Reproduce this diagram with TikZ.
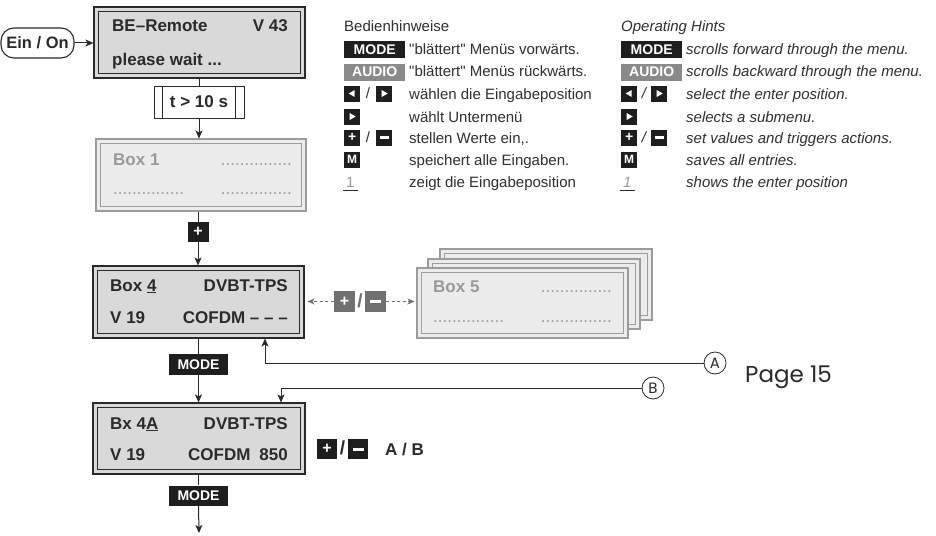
\documentclass[tikz,border=0pt]{standalone}
\usepackage{fontspec}
\setmainfont{Liberation Sans}
\newfontfamily\plainfont{Liberation Sans}
\newfontfamily\pagefont{Poppins}
\usetikzlibrary{arrows.meta}
\definecolor{dark}{HTML}{2A2A2A}
\definecolor{lcdfill}{HTML}{D9D9D9}
\definecolor{offfill}{HTML}{ECECEC}
\definecolor{offline}{HTML}{9C9C9C}
\definecolor{offtext}{HTML}{9A9A9A}
\definecolor{btnblack}{HTML}{1E1E1E}
\definecolor{audiogray}{HTML}{8A8A8A}
\definecolor{btngray}{HTML}{707070}
\definecolor{legtext}{HTML}{303030}
\newcommand\innerbox[2]{\draw[#2] ([shift={(5,5)}]#1.north west) rectangle ([shift={(-5,-5)}]#1.south east);}
\newcommand\sq{{\plainfont\symbol{34}}}
\begin{document}
\begin{tikzpicture}[x=1pt,y=-1pt,
  >={Stealth[length=8pt,width=7pt,inset=2pt]},
  lcd/.style={draw=dark,line width=1.1pt,fill=lcdfill,inner sep=0},
  offbox/.style={draw=offline,line width=1.1pt,fill=offfill,inner sep=0},
  btxt/.style={font=\fontsize{17}{20}\selectfont\bfseries,text=dark,inner sep=0},
  otxt/.style={font=\fontsize{17}{20}\selectfont\bfseries,text=offtext,inner sep=0},
  dotstxt/.style={font=\fontsize{17}{20}\selectfont,text=offtext,inner sep=0},
  keybtn/.style={fill=btnblack,text=white,font=\fontsize{14}{16}\selectfont\bfseries,inner sep=0,minimum width=61,minimum height=17},
  sqbtn/.style={fill=btnblack,text=white,font=\fontsize{14}{16}\selectfont\bfseries,inner sep=0,minimum width=16,minimum height=16},
  legtxt/.style={font=\fontsize{15}{18}\selectfont,text=legtext,inner sep=0,anchor=base west},
  legit/.style={font=\fontsize{15}{18}\selectfont\itshape,text=legtext,inner sep=0,anchor=base west},
  flow/.style={draw=dark,line width=1pt},
  gflow/.style={draw=btngray,line width=0.9pt,dashed,dash pattern=on 3pt off 2.5pt,
     -{Stealth[length=7pt,width=6pt,inset=2pt]}},
  circ/.style={circle,draw=dark,line width=0.8pt,inner sep=0,minimum size=22,font=\pagefont\fontsize{15}{16}\selectfont,text=dark}
]
\useasboundingbox (0,0) rectangle (936,535);
\fill[white] (0,0) rectangle (936,535);

% ---------- start ----------
\node[draw=dark,line width=1.1pt,rounded corners=13,minimum width=73,minimum height=30,inner sep=0,
      font=\fontsize{16.5}{18}\selectfont\bfseries,text=dark] (ein) at (37.5,43) {Ein / On};

\node[lcd,minimum width=211,minimum height=71] (be) at (199.5,42.5) {};
\innerbox{be}{dark,line width=0.9pt}
\node[btxt,anchor=base west] (be1) at (112,32) {BE–Remote};
\node[btxt,anchor=base east] (be2) at (288,32) {V 43};
\node[btxt,anchor=base west] (be3) at (112,65) {please wait ...};

\node[draw=dark,line width=1pt,fill=white,minimum width=90,minimum height=32,inner sep=0,
      font=\fontsize{17}{20}\selectfont\bfseries,text=dark] (tbox) at (199,102) {t > 10 s};
\draw[dark,line width=0.9pt] ([xshift=9]tbox.north west) -- ([xshift=9]tbox.south west);
\draw[dark,line width=0.9pt] ([xshift=-9]tbox.north east) -- ([xshift=-9]tbox.south east);

% ---------- Box 1 ----------
\node[offbox,minimum width=210,minimum height=72] (box1) at (201,175) {};
\innerbox{box1}{offline,line width=0.9pt}
\node[otxt,anchor=base west] (b1a) at (113,165) {Box 1};
\node[dotstxt,anchor=base east] (b1b) at (292,165) {...............};
\node[dotstxt,anchor=base west] (b1c) at (113,194) {...............};
\node[dotstxt,anchor=base east] (b1d) at (292,194) {...............};

\node[sqbtn,minimum width=21,minimum height=20,font=\fontsize{16}{18}\selectfont\bfseries] (plus) at (198,232) {+};

% ---------- Box 4 ----------
\node[lcd,minimum width=211,minimum height=72] (box4) at (198.5,302) {};
\innerbox{box4}{dark,line width=0.9pt}
\node[btxt,anchor=base west] (b4a) at (110,291) {Box \underline{4}};
\node[btxt,anchor=base east] (b4b) at (288,291) {DVBT-TPS};
\node[btxt,anchor=base west] (b4c) at (110,323) {V 19};
\node[btxt,anchor=base east] (b4d) at (288,323) {COFDM – – –};

\node[keybtn,minimum width=59,minimum height=21] (mode1) at (198.5,364.5) {MODE};

% ---------- Box 4A ----------
\node[lcd,minimum width=212,minimum height=71] (box4a) at (199,438.5) {};
\innerbox{box4a}{dark,line width=0.9pt}
\node[btxt,anchor=base west] (b5a) at (110,429) {Bx 4\underline{A}};
\node[btxt,anchor=base east] (b5b) at (288,429) {DVBT-TPS};
\node[btxt,anchor=base west] (b5c) at (110,460) {V 19};
\node[btxt,anchor=base east] (b5d) at (288,460) {COFDM\hspace{9pt}850};

\node[keybtn,minimum width=59,minimum height=20] (mode2) at (198.5,495.5) {MODE};
\coordinate (bottom) at (199,533);

% +/- A/B
\node[sqbtn,minimum width=20,minimum height=20,font=\fontsize{16}{18}\selectfont\bfseries] (pl2) at (327,449) {+};
\node[inner sep=0,font=\fontsize{19}{20}\selectfont\bfseries,text=dark] (sl2) at (342.5,448) {/};
\node[sqbtn,minimum width=20,minimum height=20] (mi2) at (358,449) {\rule{11pt}{3pt}};
\node[btxt,anchor=base west] (ab) at (385,455) {A / B};

% ---------- Box 5 stack ----------
\node[offbox,minimum width=212,minimum height=71] (box5c) at (546,284.5) {};
\innerbox{box5c}{offline,line width=0.9pt}
\node[offbox,minimum width=212,minimum height=70] (box5b) at (534,294) {};
\innerbox{box5b}{offline,line width=0.9pt}
\node[offbox,minimum width=211,minimum height=70] (box5) at (522.5,303) {};
\innerbox{box5}{offline,line width=0.9pt}
\node[otxt,anchor=base west] (b6a) at (433,292) {Box 5};
\node[dotstxt,anchor=base east] (b6b) at (612,292) {...............};
\node[dotstxt,anchor=base west] (b6c) at (433,322) {...............};
\node[dotstxt,anchor=base east] (b6d) at (612,322) {...............};

\node[fill=btngray,text=white,inner sep=0,minimum width=21,minimum height=21,font=\fontsize{16}{18}\selectfont\bfseries] (gpl) at (344.5,301.5) {+};
\node[inner sep=0,font=\fontsize{19}{20}\selectfont\bfseries,text=btngray] (gsl) at (360,301) {/};
\node[fill=btngray,text=white,inner sep=0,minimum width=21,minimum height=21] (gmi) at (375.5,301.5) {\rule{11pt}{3pt}};

% ---------- A / B ----------
\node[circ] (ca) at (715,363) {A};
\node[circ] (cb) at (653,388) {B};
\node[font=\pagefont\fontsize{23}{26}\selectfont,text=dark,inner sep=0,anchor=west] (page) at (745,377) {Page 15};

% ---------- connectors ----------
\draw[flow,->] (ein.east) -- (be.west |- ein.east);
\draw[flow] (be.south -| tbox.north) -- (tbox.north);
\draw[flow,->] (tbox.south) -- (box1.north -| tbox.south);
\draw[flow] (box1.south -| plus.north) -- (plus.north);
\draw[flow,->] (plus.south) -- (box4.north -| plus.south);
\draw[flow] (box4.south -| mode1.north) -- (mode1.north);
\draw[flow,->] (mode1.south) -- (box4a.north -| mode1.south);
\draw[flow] (box4a.south -| mode2.north) -- (mode2.north);
\draw[flow,->] (mode2.south) -- (bottom);
\draw[gflow] (gpl.west) -- ([xshift=3]box4.east |- gpl.west);
\draw[gflow] (gmi.east) -- ([xshift=-2]box5.west |- gmi.east);
\draw[flow,line width=0.9pt,->] (ca.west) -| ([xshift=66.5]box4.south);
\draw[flow,line width=0.9pt,->] (cb.west) -| ([xshift=82]box4a.north);

% ---------- legend (German) ----------
\node[legtxt] (lg0) at (344,32) {Bedienhinweise};
\node[keybtn,anchor=west] (lgm) at (344,49.5) {MODE};
\node[legtxt] (lg1) at (409,54.5) {\sq blättert\sq{} Menüs vorwärts.};
\node[keybtn,anchor=west,fill=audiogray] (lga) at (344,72) {AUDIO};
\node[legtxt] (lg2) at (409,76.5) {\sq blättert\sq{} Menüs rückwärts.};
\node[sqbtn,anchor=west] (lgl) at (344,93.5) {};
\node[legtxt,anchor=center] (lgs1) at (368,93.5) {/};
\node[sqbtn,anchor=west] (lgr) at (376,93.5) {};
\node[legtxt] (lg3) at (409,99) {wählen die Eingabeposition};
\node[sqbtn,anchor=west] (lgr2) at (344,116.5) {};
\node[legtxt] (lg4) at (409,122) {wählt Untermenü};
\node[sqbtn,anchor=west] (lgp) at (344,137.5) {+};
\node[legtxt,anchor=center] (lgs2) at (368,137.5) {/};
\node[sqbtn,anchor=west] (lgmi) at (376,137.5) {\rule{9pt}{2.6pt}};
\node[legtxt] (lg5) at (409,143) {stellen Werte ein,.};
\node[sqbtn,anchor=west,font=\fontsize{12}{14}\selectfont\bfseries] (lgM) at (344,159.5) {M};
\node[legtxt] (lg6) at (409,165) {speichert alle Eingaben.};
\node[legtxt,text=offtext] (lg1n) at (346,187) {1};
\draw[dark,line width=0.9pt] (343,190) -- (358,190);
\node[legtxt] (lg7) at (409,187) {zeigt die Eingabeposition};

% ---------- legend (English) ----------
\node[legit] (le0) at (621,32) {Operating Hints};
\node[keybtn,anchor=west] (lem) at (621,49.5) {MODE};
\node[legit] (le1) at (686,54.5) {scrolls forward through the menu.};
\node[keybtn,anchor=west,fill=audiogray] (lea) at (621,72) {AUDIO};
\node[legit] (le2) at (686,76.5) {scrolls backward through the menu.};
\node[sqbtn,anchor=west] (lel) at (621,93.5) {};
\node[legit,anchor=center] (les1) at (644,93.5) {/};
\node[sqbtn,anchor=west] (ler) at (651,93.5) {};
\node[legit] (le3) at (686,99) {select the enter position.};
\node[sqbtn,anchor=west] (ler2) at (621,116.5) {};
\node[legit] (le4) at (686,122) {selects a submenu.};
\node[sqbtn,anchor=west] (lep) at (621,137.5) {+};
\node[legit,anchor=center] (les2) at (644,137.5) {/};
\node[sqbtn,anchor=west] (lemi) at (651,137.5) {\rule{9pt}{2.6pt}};
\node[legit] (le5) at (686,143) {set values and triggers actions.};
\node[sqbtn,anchor=west,font=\fontsize{12}{14}\selectfont\bfseries] (leM) at (621,159.5) {M};
\node[legit] (le6) at (686,165) {saves all entries.};
\node[legit,text=offtext] (le1n) at (623,187) {1};
\draw[dark,line width=0.9pt] (620,190) -- (635,190);
\node[legit] (le7) at (686,187) {shows the enter position};

% triangles
\foreach \n in {lgl,lel}{\fill[white,shift={(\n.center)}] (-3.5,0) -- (2.5,-3.5) -- (2.5,3.5) -- cycle;}
\foreach \n in {lgr,lgr2,ler,ler2}{\fill[white,shift={(\n.center)}] (3.5,0) -- (-2.5,-3.5) -- (-2.5,3.5) -- cycle;}
\end{tikzpicture}
\end{document}
